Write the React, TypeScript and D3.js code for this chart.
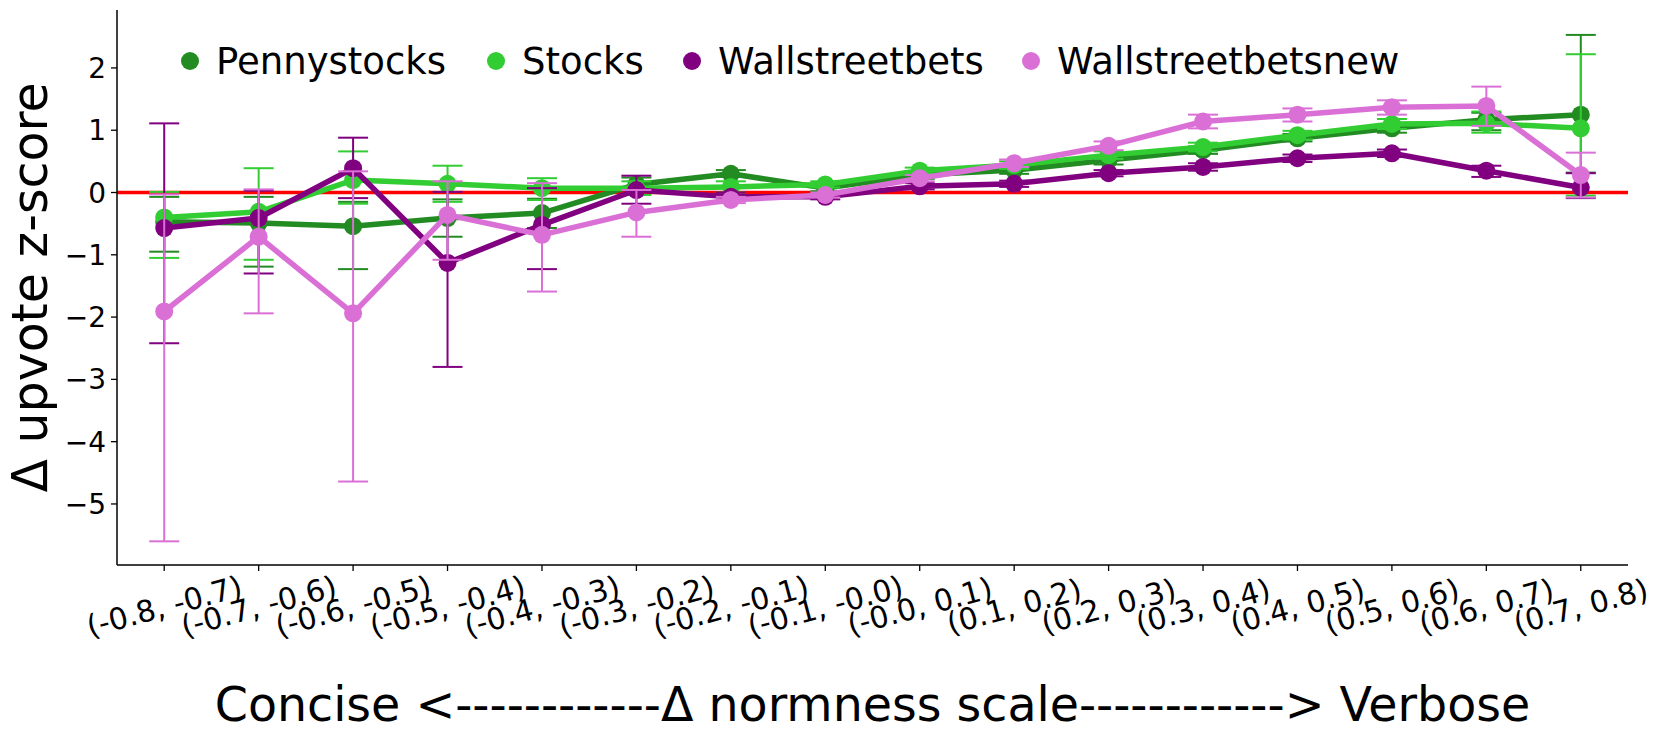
import { useMemo } from 'react'
import * as d3 from 'd3'

const categories = [
  '(-0.8, -0.7)', '(-0.7, -0.6)', '(-0.6, -0.5)', '(-0.5, -0.4)',
  '(-0.4, -0.3)', '(-0.3, -0.2)', '(-0.2, -0.1)', '(-0.1, -0.0)',
  '(-0.0, 0.1)', '(0.1, 0.2)', '(0.2, 0.3)', '(0.3, 0.4)',
  '(0.4, 0.5)', '(0.5, 0.6)', '(0.6, 0.7)', '(0.7, 0.8)',
]

const yTicks = [-5, -4, -3, -2, -1, 0, 1, 2]

// Pennystocks
const pennyMean = [-0.47, -0.49, -0.54, -0.41, -0.33, 0.13, 0.30, 0.07, 0.28, 0.36, 0.52, 0.68, 0.87, 1.03, 1.17, 1.25]
const pennyLow = [-0.95, -1.19, -1.23, -0.71, -0.57, 0.04, 0.25, 0.02, 0.22, 0.30, 0.45, 0.62, 0.82, 0.96, 1.0, 0.32]
const pennyHigh = [-0.07, -0.07, -0.15, -0.11, -0.10, 0.24, 0.36, 0.12, 0.34, 0.42, 0.58, 0.74, 0.94, 1.10, 1.28, 2.53]

// Stocks
const stocksMean = [-0.40, -0.31, 0.20, 0.14, 0.07, 0.07, 0.09, 0.13, 0.35, 0.44, 0.60, 0.73, 0.92, 1.10, 1.11, 1.03]
const stocksLow = [-1.05, -1.08, -0.18, -0.15, -0.12, -0.04, 0.0, 0.08, 0.30, 0.38, 0.54, 0.66, 0.85, 1.02, 0.96, -0.05]
const stocksHigh = [0.01, 0.39, 0.66, 0.43, 0.23, 0.18, 0.18, 0.18, 0.40, 0.50, 0.66, 0.80, 0.99, 1.18, 1.30, 2.22]

// Wallstreetbets
const wsbMean = [-0.57, -0.41, 0.39, -1.13, -0.52, 0.04, -0.07, -0.07, 0.10, 0.14, 0.31, 0.41, 0.55, 0.63, 0.35, 0.08]
const wsbLow = [-2.42, -1.30, -0.09, -2.80, -1.23, -0.18, -0.12, -0.11, 0.05, 0.09, 0.26, 0.35, 0.49, 0.57, 0.25, -0.09]
const wsbHigh = [1.11, 0.03, 0.88, 0.01, 0.07, 0.27, 0.0, -0.03, 0.15, 0.19, 0.36, 0.47, 0.61, 0.69, 0.43, 0.31]

// Wallstreetbetsnew
const wsbNewMean = [-1.91, -0.71, -1.94, -0.36, -0.68, -0.32, -0.12, -0.04, 0.23, 0.47, 0.75, 1.14, 1.25, 1.37, 1.39, 0.28]
const wsbNewLow = [-5.60, -1.94, -4.64, -1.08, -1.59, -0.71, -0.17, -0.08, 0.18, 0.41, 0.68, 1.03, 1.14, 1.25, 1.07, -0.08]
const wsbNewHigh = [-0.03, 0.05, 0.34, 0.18, 0.15, 0.04, -0.07, 0.0, 0.28, 0.53, 0.82, 1.25, 1.35, 1.48, 1.70, 0.64]

const series = [
  { name: 'Pennystocks', color: '#228B22', mean: pennyMean, low: pennyLow, high: pennyHigh },
  { name: 'Stocks', color: '#32CD32', mean: stocksMean, low: stocksLow, high: stocksHigh },
  { name: 'Wallstreetbets', color: '#800080', mean: wsbMean, low: wsbLow, high: wsbHigh },
  { name: 'Wallstreetbetsnew', color: '#DA70D6', mean: wsbNewMean, low: wsbNewLow, high: wsbNewHigh },
]

const W = 1661
const H = 734
const plot = { left: 117, right: 1628, top: 10, bottom: 565 }
const FONT = 'DejaVu Sans, sans-serif'
const legendX = [190, 496, 692, 1031]

export default function App() {
  const x = useMemo(
    () => d3.scalePoint<string>().domain(categories).range([plot.left, plot.right]).padding(0.5),
    []
  )
  const y = useMemo(
    () => d3.scaleLinear().domain([-5.98, 2.93]).range([plot.bottom, plot.top]),
    []
  )
  const line = d3
    .line<number>()
    .x((_, i) => x(categories[i])!)
    .y((d) => y(d))

  const cap = 15

  return (
    <svg
      width={W}
      height={H}
      viewBox={`0 0 ${W} ${H}`}
      style={{ position: 'absolute', left: 0, top: 0, display: 'block', background: '#fff' }}
      fontFamily={FONT}
    >
      {/* zero line */}
      <line x1={plot.left} x2={plot.right} y1={y(0)} y2={y(0)} stroke="#ff0000" strokeWidth={3.5} />

      {series.map((s) => (
        <g key={s.name}>
          {s.mean.map((_, i) => {
            const cx = x(categories[i])!
            return (
              <g key={i} stroke={s.color} strokeWidth={2}>
                <line x1={cx} x2={cx} y1={y(s.low[i])} y2={y(s.high[i])} />
                <line x1={cx - cap} x2={cx + cap} y1={y(s.low[i])} y2={y(s.low[i])} />
                <line x1={cx - cap} x2={cx + cap} y1={y(s.high[i])} y2={y(s.high[i])} />
              </g>
            )
          })}
          <path d={line(s.mean)!} fill="none" stroke={s.color} strokeWidth={5.5} strokeLinejoin="round" />
          {s.mean.map((v, i) => (
            <circle key={i} cx={x(categories[i])!} cy={y(v)} r={9} fill={s.color} />
          ))}
        </g>
      ))}

      {/* spines */}
      <line x1={plot.left} x2={plot.left} y1={plot.top} y2={plot.bottom} stroke="#000" strokeWidth={1.5} />
      <line x1={plot.left} x2={plot.right} y1={plot.bottom} y2={plot.bottom} stroke="#000" strokeWidth={1.5} />

      {/* y ticks */}
      {yTicks.map((t) => (
        <g key={t} transform={`translate(${plot.left},${y(t)})`}>
          <line x1={-6} x2={0} stroke="#000" strokeWidth={1.3} />
          <text x={-11} dy="0.36em" textAnchor="end" fontSize={28} fill="#000">
            {t < 0 ? `\u2212${-t}` : t}
          </text>
        </g>
      ))}

      {/* x ticks */}
      {categories.map((c) => {
        const cx = x(c)!
        return (
          <g key={c}>
            <line x1={cx} x2={cx} y1={plot.bottom} y2={plot.bottom + 6} stroke="#000" strokeWidth={1.3} />
            <g transform={`translate(${cx},${plot.bottom + 41}) rotate(-15)`}>
              <text textAnchor="middle" dy="0.36em" fontSize={30} fill="#000">
                {c}
              </text>
            </g>
          </g>
        )
      })}

      {/* axis labels */}
      <text
        x={(plot.left + plot.right) / 2}
        y={721}
        textAnchor="middle"
        fontSize={47.5}
        fill="#000"
      >
        {'Concise <------------\u0394 normness scale------------> Verbose'}
      </text>
      <text
        transform={`translate(47,${(plot.top + plot.bottom) / 2}) rotate(-90)`}
        textAnchor="middle"
        fontSize={49}
        fill="#000"
      >
        {'\u0394 upvote z-score'}
      </text>

      {/* legend */}
      {series.map((s, i) => (
        <g key={s.name} transform={`translate(${legendX[i]},61)`}>
          <circle r={9} fill={s.color} />
          <text x={26} dy="0.36em" fontSize={37} fill="#000">
            {s.name}
          </text>
        </g>
      ))}
    </svg>
  )
}
